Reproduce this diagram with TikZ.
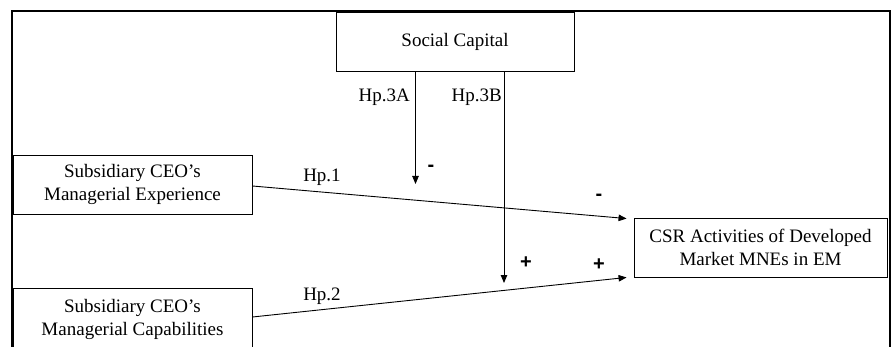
\documentclass[tikz,border=0pt]{standalone}
\usepackage{fontspec}
\setmainfont{Liberation Serif}
\newfontfamily\signfont{Liberation Sans}
\usetikzlibrary{arrows.meta,calc}
\tikzset{
  box/.style={draw, line width=0.9pt, inner sep=0pt, align=center,
              font=\fontsize{19}{23}\selectfont},
  lbl/.style={inner sep=0pt, font=\fontsize{19}{23}\selectfont},
  sign/.style={inner sep=0pt, font=\signfont\bfseries\fontsize{20}{22}\selectfont},
  conn/.style={line width=0.9pt, -{Triangle[length=8pt,width=6.5pt]}},
  frame/.style={line width=2pt}
}
\begin{document}
\begin{tikzpicture}[x=1pt,y=-1pt]
\useasboundingbox (0,0) rectangle (893,347);
% outer frame (open at the bottom, cropped)
\draw[frame] (12,352) -- (12,11) -- (890,11) -- (890,352);
% boxes
\node[box, minimum width=238pt, minimum height=59pt] (sc) at (455,41.5) {Social Capital};
\node[box, minimum width=239pt, minimum height=59pt] (exp) at (132.5,184.5)
  {Subsidiary CEO's\\Managerial Experience};
\node[box, minimum width=239pt, minimum height=62pt] (cap) at (132.5,319)
  {Subsidiary CEO's\\Managerial Capabilities};
\node[box, minimum width=253pt, minimum height=59pt] (csr) at (760.5,247.5)
  {CSR Activities of Developed\\Market MNEs in EM};
% free ends of the moderating arrows
\coordinate (m3a) at (415.5,184);
\coordinate (m3b) at (504,283);
% connectors
\draw[conn] (exp.east |- 0,186) -- ($(csr.north west)+(-7,1)$);
\draw[conn] (cap.east |- 0,317) -- ($(csr.south west)+(-7,0)$);
\draw[conn] (sc.south -| m3a) -- (m3a);
\draw[conn] (sc.south -| m3b) -- (m3b);
% labels
\node[lbl, anchor=east] (h3a) at (410,97) {Hp.3A};
\node[lbl, anchor=east] (h3b) at (502,97) {Hp.3B};
\node[lbl] (h1) at (322,177) {Hp.1};
\node[lbl] (h2) at (322,296) {Hp.2};
\node[sign] (s1) at (431,168) {-};
\node[sign] (s2) at (599,197) {-};
\node[sign] (s3) at (526,263) {+};
\node[sign] (s4) at (599,265) {+};
\end{tikzpicture}
\end{document}
